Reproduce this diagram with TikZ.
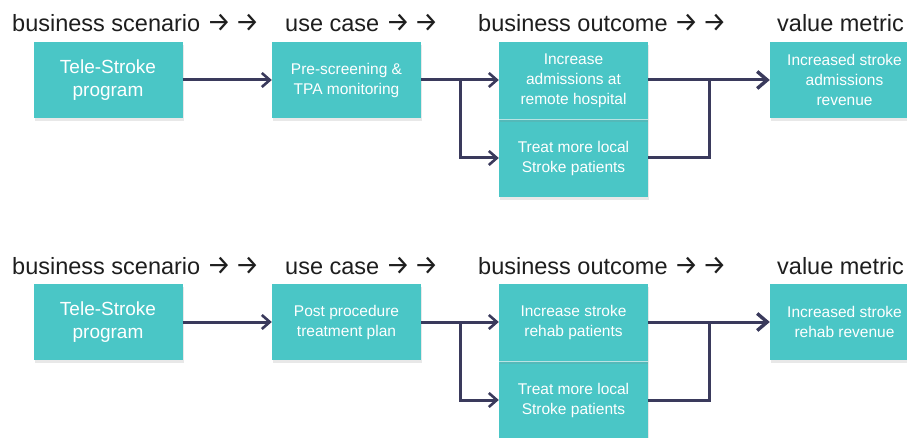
\documentclass[tikz,border=0pt]{standalone}
\usepackage{fontspec}
\setmainfont{Liberation Sans}
\newfontfamily\arrowfont{Fira Sans}
\usetikzlibrary{arrows.meta,shadows}
\definecolor{tealbox}{RGB}{74,198,198}
\definecolor{navy}{RGB}{58,58,92}
\definecolor{headtxt}{RGB}{30,30,30}
% header arrow pair
\newcommand{\hdarrows}{{\arrowfont\fontsize{27}{28}\selectfont →\hspace{0.15em}→}}
\tikzset{
  box/.style={fill=tealbox, draw=none, text=white, align=center,
    inner sep=0pt, minimum width=149pt, minimum height=76pt,
    drop shadow={opacity=0.18, shadow xshift=1pt, shadow yshift=-3pt}},
  bigtxt/.style={font=\fontsize{19}{23}\selectfont},
  smalltxt/.style={font=\fontsize{15.5}{20}\selectfont},
  header/.style={anchor=base west, inner sep=0pt, text=headtxt,
    font=\fontsize{23.5}{28}\selectfont},
  conn/.style={draw=navy, line width=3pt,
    -{Straight Barb[length=8pt, width=14pt, line width=2.6pt]}},
  bigconn/.style={draw=navy, line width=3pt,
    -{Straight Barb[length=10pt, width=17pt, line width=3.4pt]}},
  plain/.style={draw=navy, line width=3pt},
  split/.style={draw=white, line width=0.6pt, opacity=0.6}
}
\begin{document}
\begin{tikzpicture}[x=1pt,y=-1pt]
\useasboundingbox (0,0) rectangle (907,438);
\clip (0,0) rectangle (907,438);
\fill[white] (0,0) rectangle (907,438);

% ---------- first flow ----------
\node[header] (h1) at (12,32) {business scenario \hdarrows};
\node[header] (h2) at (285,32) {use case \hdarrows};
\node[header] (h3) at (478,32) {business outcome \hdarrows};
\node[header] (h4) at (777,32) {value metric};

\node[box, bigtxt] (a1) at (108,80) {Tele-Stroke\\program};
\node[box, smalltxt] (a2) at (346.5,80) {Pre-screening \&\\TPA monitoring};
\node[box, smalltxt, minimum height=78pt] (a4) at (573.5,158) {Treat more local\\Stroke patients};
\node[box, smalltxt, minimum height=77pt] (a3) at (573.5,80.5) {Increase\\admissions at\\remote hospital};
\draw[split] (a3.south west) -- (a3.south east);
\node[box, smalltxt] (a5) at (844.5,80) {Increased stroke\\admissions\\revenue};

\coordinate (as) at (460,80);
\coordinate (am) at (709,80);
\draw[conn] (a1.east) -- (a1.east -| a2.west);
\draw[conn] (a2.east) -- (a2.east -| a3.west);
\draw[conn] (as) |- (a4.west);
\draw[bigconn] (a3.east |- as) -- (a5.west);
\draw[plain] (a4.east) -| (am);

% ---------- second flow ----------
\node[header] (k1) at (12,274) {business scenario \hdarrows};
\node[header] (k2) at (285,274) {use case \hdarrows};
\node[header] (k3) at (478,274) {business outcome \hdarrows};
\node[header] (k4) at (777,274) {value metric};

\node[box, bigtxt] (b1) at (108,322) {Tele-Stroke\\program};
\node[box, smalltxt] (b2) at (346.5,322) {Post procedure\\treatment plan};
\node[box, smalltxt, minimum height=78pt] (b4) at (573.5,400) {Treat more local\\Stroke patients};
\node[box, smalltxt, minimum height=77pt] (b3) at (573.5,322.5) {Increase stroke\\rehab patients};
\draw[split] (b3.south west) -- (b3.south east);
\node[box, smalltxt] (b5) at (844.5,322) {Increased stroke\\rehab revenue};

\coordinate (bs) at (460,322);
\coordinate (bm) at (709,322);
\draw[conn] (b1.east) -- (b1.east -| b2.west);
\draw[conn] (b2.east) -- (b2.east -| b3.west);
\draw[conn] (bs) |- (b4.west);
\draw[bigconn] (b3.east |- bs) -- (b5.west);
\draw[plain] (b4.east) -| (bm);
\end{tikzpicture}
\end{document}
